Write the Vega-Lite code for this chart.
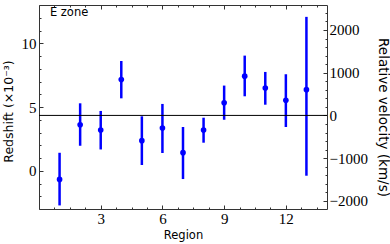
{
  "$schema": "https://vega.github.io/schema/vega-lite/v6.json",
  "width": 288,
  "height": 204,
  "autosize": {"type": "none"},
  "padding": {"left": 39, "top": 5, "right": 63, "bottom": 35},
  "config": {
    "view": {"stroke": null},
    "axis": {
      "grid": false,
      "domainColor": "#333333",
      "domainWidth": 1,
      "tickColor": "#333333",
      "tickWidth": 1,
      "labelFont": "Liberation Serif",
      "labelFontSize": 15,
      "labelColor": "#000000",
      "labelOverlap": false,
      "labelFlush": false,
      "titleFont": "DejaVu Sans",
      "titleFontSize": 12,
      "titleFontWeight": "normal",
      "titleColor": "#000000"
    }
  },
  "layer": [
    {
      "data": {
        "values": [
          {"region": 1, "z": -0.68, "lo": -2.72, "hi": 1.41},
          {"region": 2, "z": 3.61, "lo": 1.96, "hi": 5.29},
          {"region": 3, "z": 3.19, "lo": 1.67, "hi": 4.69},
          {"region": 4, "z": 7.16, "lo": 5.68, "hi": 8.61},
          {"region": 5, "z": 2.36, "lo": 0.45, "hi": 4.27},
          {"region": 6, "z": 3.35, "lo": 1.39, "hi": 5.24},
          {"region": 7, "z": 1.42, "lo": -0.65, "hi": 3.43},
          {"region": 8, "z": 3.19, "lo": 2.2, "hi": 4.16},
          {"region": 9, "z": 5.33, "lo": 4.0, "hi": 6.68},
          {"region": 10, "z": 7.42, "lo": 5.84, "hi": 9.03},
          {"region": 11, "z": 6.49, "lo": 5.18, "hi": 7.75},
          {"region": 12, "z": 5.52, "lo": 3.43, "hi": 7.57},
          {"region": 13, "z": 6.36, "lo": -0.39, "hi": 12.07}
        ]
      },
      "layer": [
        {
          "mark": {"type": "rule", "color": "#0000ff", "strokeWidth": 2.5},
          "encoding": {
            "x": {
              "field": "region",
              "type": "quantitative",
              "scale": {"domain": [0, 14], "nice": false, "zero": false},
              "axis": {
                "orient": "bottom",
                "title": "Region",
                "titleFontSize": 11.5,
                "values": [0.75, 1.5, 2.25, 3, 3.75, 4.5, 5.25, 6, 6.75, 7.5, 8.25, 9, 9.75, 10.5, 11.25, 12, 12.75, 13.5],
                "labelExpr": "datum.value % 3 === 0 ? datum.label : ''",
                "tickSize": {"condition": {"test": "datum.value % 3 === 0", "value": -4}, "value": -2},
                "labelPadding": 6,
                "titleY": 20
              }
            },
            "y": {
              "field": "lo",
              "type": "quantitative",
              "scale": {"domain": [-3, 13], "nice": false, "zero": false},
              "axis": {
                "orient": "left",
                "title": "Redshift (×10⁻³)",
                "titleFontSize": 12.5,
                "values": [-3, -2, -1, 0, 1, 2, 3, 4, 5, 6, 7, 8, 9, 10, 11, 12, 13],
                "labelExpr": "datum.value % 5 === 0 ? datum.label : ''",
                "tickSize": {"condition": {"test": "datum.value % 5 === 0", "value": -4}, "value": -2},
                "labelPadding": 7,
                "titleX": -24,
                "titleY": 106
              }
            },
            "y2": {"field": "hi"}
          }
        },
        {
          "mark": {"type": "point", "filled": true, "color": "#0000ff", "size": 32, "opacity": 1},
          "encoding": {
            "x": {
              "field": "region",
              "type": "quantitative",
              "scale": {"domain": [0, 14], "nice": false, "zero": false},
              "axis": {
                "orient": "bottom",
                "title": "Region",
                "titleFontSize": 11.5,
                "values": [0.75, 1.5, 2.25, 3, 3.75, 4.5, 5.25, 6, 6.75, 7.5, 8.25, 9, 9.75, 10.5, 11.25, 12, 12.75, 13.5],
                "labelExpr": "datum.value % 3 === 0 ? datum.label : ''",
                "tickSize": {"condition": {"test": "datum.value % 3 === 0", "value": -4}, "value": -2},
                "labelPadding": 6,
                "titleY": 20
              }
            },
            "y": {
              "field": "z",
              "type": "quantitative",
              "scale": {"domain": [-3, 13], "nice": false, "zero": false},
              "axis": {
                "orient": "left",
                "title": "Redshift (×10⁻³)",
                "titleFontSize": 12.5,
                "values": [-3, -2, -1, 0, 1, 2, 3, 4, 5, 6, 7, 8, 9, 10, 11, 12, 13],
                "labelExpr": "datum.value % 5 === 0 ? datum.label : ''",
                "tickSize": {"condition": {"test": "datum.value % 5 === 0", "value": -4}, "value": -2},
                "labelPadding": 7,
                "titleX": -24,
                "titleY": 106
              }
            }
          }
        },
        {
          "data": {"values": [{"label": "E zone"}]},
          "mark": {"type": "text", "font": "DejaVu Sans", "fontSize": 11.5, "align": "left", "baseline": "alphabetic", "fill": "#000000"},
          "encoding": {
            "x": {
              "datum": 0.53,
              "type": "quantitative",
              "scale": {"domain": [0, 14], "nice": false, "zero": false},
              "axis": {
                "orient": "bottom",
                "title": "Region",
                "titleFontSize": 11.5,
                "values": [0.75, 1.5, 2.25, 3, 3.75, 4.5, 5.25, 6, 6.75, 7.5, 8.25, 9, 9.75, 10.5, 11.25, 12, 12.75, 13.5],
                "labelExpr": "datum.value % 3 === 0 ? datum.label : ''",
                "tickSize": {"condition": {"test": "datum.value % 3 === 0", "value": -4}, "value": -2},
                "labelPadding": 6,
                "titleY": 20
              }
            },
            "y": {
              "datum": 12.1,
              "type": "quantitative",
              "scale": {"domain": [-3, 13], "nice": false, "zero": false},
              "axis": {
                "orient": "left",
                "title": "Redshift (×10⁻³)",
                "titleFontSize": 12.5,
                "values": [-3, -2, -1, 0, 1, 2, 3, 4, 5, 6, 7, 8, 9, 10, 11, 12, 13],
                "labelExpr": "datum.value % 5 === 0 ? datum.label : ''",
                "tickSize": {"condition": {"test": "datum.value % 5 === 0", "value": -4}, "value": -2},
                "labelPadding": 7,
                "titleX": -24,
                "titleY": 106
              }
            },
            "text": {"field": "label", "type": "nominal"}
          }
        }
      ]
    },
    {
      "data": {"values": [{"v": 0}]},
      "mark": {"type": "rule", "color": "#000000", "strokeWidth": 1},
      "encoding": {
        "x": {
          "datum": 0,
          "type": "quantitative",
          "scale": {"domain": [0, 14], "nice": false, "zero": false},
          "axis": {
            "orient": "top",
            "title": null,
            "values": [0.75, 1.5, 2.25, 3, 3.75, 4.5, 5.25, 6, 6.75, 7.5, 8.25, 9, 9.75, 10.5, 11.25, 12, 12.75, 13.5],
            "labels": false,
            "tickSize": {"condition": {"test": "datum.value % 3 === 0", "value": -4}, "value": -2}
          }
        },
        "x2": {"datum": 14},
        "y": {
          "field": "v",
          "type": "quantitative",
          "scale": {"domain": [-2191, 2585], "nice": false, "zero": false},
          "axis": {
            "orient": "right",
            "title": "Relative velocity (km/s)",
            "titleFontSize": 13.5,
            "values": [-2000, -1800, -1600, -1400, -1200, -1000, -800, -600, -400, -200, 0, 200, 400, 600, 800, 1000, 1200, 1400, 1600, 1800, 2000, 2200, 2400],
            "labelExpr": "datum.value % 1000 === 0 ? format(datum.value, 'd') : ''",
            "tickSize": {"condition": {"test": "datum.value % 1000 === 0", "value": -4}, "value": -2},
            "labelPadding": 6,
            "titleX": 48,
            "titleY": 112
          }
        }
      }
    }
  ],
  "resolve": {"scale": {"x": "independent", "y": "independent"}, "axis": {"x": "independent", "y": "independent"}}
}
